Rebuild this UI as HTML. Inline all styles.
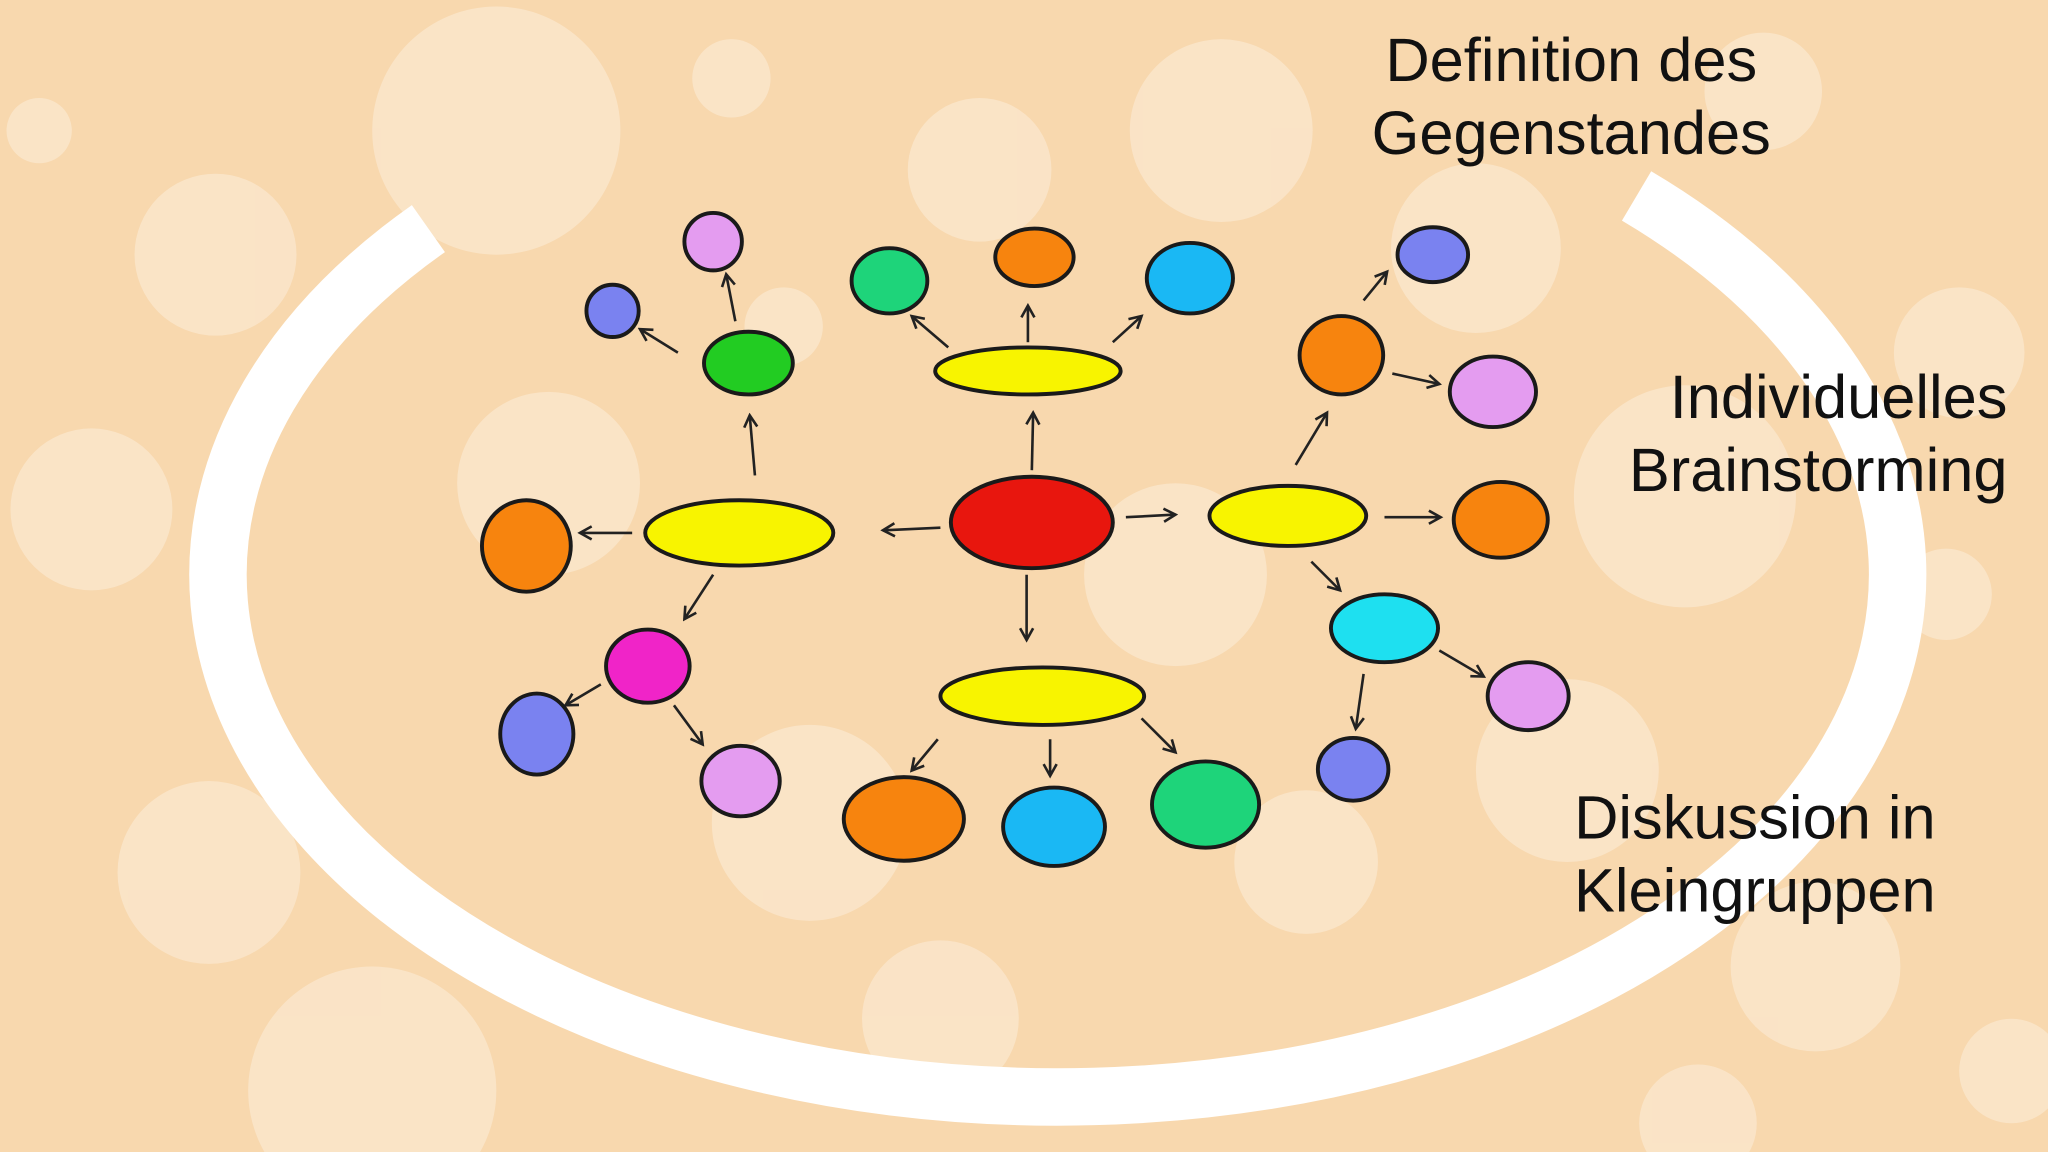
<!DOCTYPE html>
<html><head><meta charset="utf-8"><style>
html,body{margin:0;padding:0;width:2048px;height:1152px;overflow:hidden;background:#f8d8ae}
svg{display:block;position:absolute;left:0;top:0}
text{font-family:"Liberation Sans",sans-serif;fill:#111;font-size:47px}
</style></head><body>
<svg width="2048" height="1152" viewBox="0 0 1568 882" xmlns="http://www.w3.org/2000/svg">
<defs>
<marker id="a" markerWidth="12" markerHeight="12" refX="10" refY="6" orient="auto" markerUnits="userSpaceOnUse">
<path d="M1,1 L10,6 L1,11" fill="none" stroke="#222" stroke-width="2"/></marker>
</defs>
<rect width="1568" height="882" fill="#f8d8ae"/>
<g fill="#fff" opacity="0.3">
<circle cx="380" cy="100" r="95"/><circle cx="935" cy="100" r="70"/><circle cx="750" cy="130" r="55"/>
<circle cx="165" cy="195" r="62"/><circle cx="70" cy="390" r="62"/><circle cx="160" cy="668" r="70"/>
<circle cx="285" cy="835" r="95"/><circle cx="1390" cy="740" r="65"/><circle cx="1290" cy="380" r="85"/>
<circle cx="1500" cy="270" r="50"/><circle cx="1490" cy="455" r="35"/><circle cx="1540" cy="820" r="40"/>
<circle cx="1130" cy="190" r="65"/><circle cx="1350" cy="70" r="45"/><circle cx="1000" cy="660" r="55"/>
<circle cx="420" cy="370" r="70"/><circle cx="900" cy="440" r="70"/><circle cx="620" cy="630" r="75"/>
<circle cx="560" cy="60" r="30"/><circle cx="30" cy="100" r="25"/><circle cx="1300" cy="860" r="45"/>
<circle cx="1200" cy="590" r="70"/><circle cx="720" cy="780" r="60"/><circle cx="600" cy="250" r="30"/>
</g>
<path d="M328,175 A643,400 0 1 0 1253,150" fill="none" stroke="#fff" stroke-width="44"/>
<text x="1203" y="62" text-anchor="middle">Definition des</text>
<text x="1203" y="118" text-anchor="middle">Gegenstandes</text>
<text x="1537" y="320" text-anchor="end">Individuelles</text>
<text x="1537" y="376" text-anchor="end">Brainstorming</text>
<text x="1482" y="642" text-anchor="end">Diskussion in</text>
<text x="1482" y="698" text-anchor="end">Kleingruppen</text>
<g stroke="#222" stroke-width="2" fill="none" marker-end="url(#a)">
<line x1="720" y1="404" x2="676" y2="406"/><line x1="862" y1="396" x2="900" y2="394"/>
<line x1="790" y1="360" x2="791" y2="316"/><line x1="786" y1="440" x2="786" y2="490"/>
<line x1="484" y1="408" x2="444" y2="408"/><line x1="578" y1="364" x2="574" y2="318"/>
<line x1="546" y1="440" x2="524" y2="474"/><line x1="519" y1="270" x2="490" y2="252"/>
<line x1="563" y1="246" x2="556" y2="210"/><line x1="460" y1="524" x2="433" y2="540"/>
<line x1="516" y1="540" x2="538" y2="570"/><line x1="726" y1="266" x2="698" y2="242"/>
<line x1="787" y1="262" x2="787" y2="234"/><line x1="852" y1="262" x2="874" y2="242"/>
<line x1="992" y1="356" x2="1016" y2="316"/><line x1="1044" y1="230" x2="1062" y2="208"/>
<line x1="1066" y1="286" x2="1102" y2="294"/><line x1="1060" y1="396" x2="1103" y2="396"/>
<line x1="1004" y1="430" x2="1026" y2="452"/><line x1="1044" y1="516" x2="1038" y2="558"/>
<line x1="1102" y1="498" x2="1136" y2="518"/><line x1="718" y1="566" x2="698" y2="590"/>
<line x1="804" y1="566" x2="804" y2="594"/><line x1="874" y1="550" x2="900" y2="576"/>
</g>
<g stroke="#1a1a1a" stroke-width="3">
<ellipse cx="790" cy="400" rx="62" ry="35" fill="#e8160e"/>
<ellipse cx="566" cy="408" rx="72" ry="25" fill="#f8f400"/>
<ellipse cx="787" cy="284" rx="71" ry="18" fill="#f8f400"/>
<ellipse cx="986" cy="395" rx="60" ry="23" fill="#f8f400"/>
<ellipse cx="798" cy="533" rx="78" ry="22" fill="#f8f400"/>
<ellipse cx="573" cy="278" rx="34" ry="24" fill="#22cc22"/>
<ellipse cx="546" cy="185" rx="22" ry="22" fill="#e49cf0"/>
<ellipse cx="469" cy="238" rx="20" ry="20" fill="#7a82f0"/>
<ellipse cx="403" cy="418" rx="34" ry="35" fill="#f7840e"/>
<ellipse cx="496" cy="510" rx="32" ry="28" fill="#f024c8"/>
<ellipse cx="411" cy="562" rx="28" ry="31" fill="#7a82f0"/>
<ellipse cx="567" cy="598" rx="30" ry="27" fill="#e49cf0"/>
<ellipse cx="681" cy="215" rx="29" ry="25" fill="#1ed47a"/>
<ellipse cx="792" cy="197" rx="30" ry="22" fill="#f7840e"/>
<ellipse cx="911" cy="213" rx="33" ry="27" fill="#1ab8f4"/>
<ellipse cx="1027" cy="272" rx="32" ry="30" fill="#f7840e"/>
<ellipse cx="1097" cy="195" rx="27" ry="21" fill="#7a82f0"/>
<ellipse cx="1143" cy="300" rx="33" ry="27" fill="#e49cf0"/>
<ellipse cx="1149" cy="398" rx="36" ry="29" fill="#f7840e"/>
<ellipse cx="1060" cy="481" rx="41" ry="26" fill="#1ee0f0"/>
<ellipse cx="1170" cy="533" rx="31" ry="26" fill="#e49cf0"/>
<ellipse cx="1036" cy="589" rx="27" ry="24" fill="#7a82f0"/>
<ellipse cx="692" cy="627" rx="46" ry="32" fill="#f7840e"/>
<ellipse cx="807" cy="633" rx="39" ry="30" fill="#1ab8f4"/>
<ellipse cx="923" cy="616" rx="41" ry="33" fill="#1ed47a"/>
</g>
</svg>
</body></html>
